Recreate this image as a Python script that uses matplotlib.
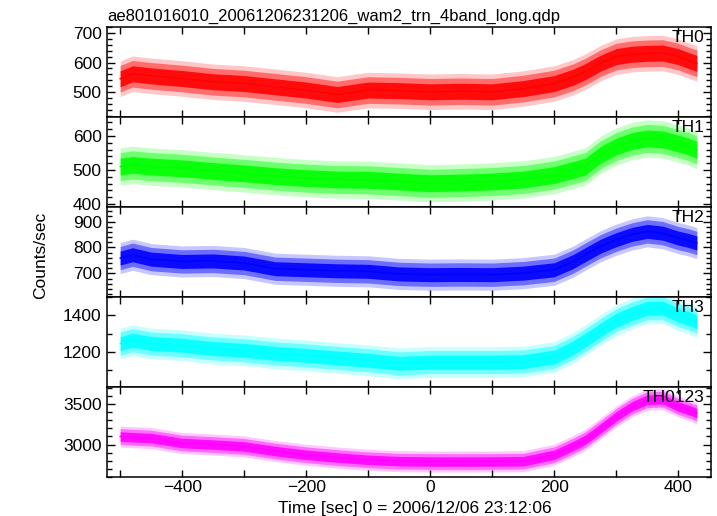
import numpy as np
import matplotlib
matplotlib.use('Agg')
import matplotlib.pyplot as plt
from matplotlib.ticker import MultipleLocator

plt.rcParams['font.family'] = ['Liberation Sans', 'DejaVu Sans']

# time bins [sec], shared by all bands
TIME = [-500, -480, -450, -400, -350, -300, -250, -200, -150, -100, -50, 0,
        50, 100, 150, 200, 230, 250, 275, 300, 325, 350, 375, 400, 415, 430]

# band-averaged count rates
TH0 = [545, 562, 555, 546, 535, 529, 518, 507, 492, 507, 505, 501,
       503, 501, 512, 529, 550, 569, 598, 620, 628, 631, 632, 620, 608, 597]
TH1 = [510, 515, 510, 505, 497, 490, 482, 476, 472, 471, 466, 461,
       463, 466, 472, 485, 500, 510, 545, 569, 585, 593, 590, 578, 570, 559]
TH2 = [759, 772, 755, 746, 748, 740, 718, 714, 710, 708, 698, 695,
       696, 695, 701, 714, 745, 772, 805, 830, 850, 862, 855, 836, 828, 817]
TH3 = [1244, 1263, 1245, 1235, 1217, 1207, 1190, 1179, 1165, 1152, 1135, 1142,
       1142, 1142, 1145, 1170, 1220, 1263, 1320, 1374, 1410, 1439, 1440, 1402, 1385, 1365]
TH0123 = [3100, 3090, 3080, 3019, 3000, 2977, 2920, 2874, 2840, 2812, 2795, 2791,
          2790, 2791, 2795, 2874, 2980, 3059, 3200, 3347, 3470, 3553, 3560, 3470, 3430, 3389]

# typical scatter of the 1-s bins around the mean, counts/sec
SCATTER = [60, 55, 60, 85, 130]

NAMES = ['TH0', 'TH1', 'TH2', 'TH3', 'TH0123']
SERIES = [TH0, TH1, TH2, TH3, TH0123]
COLORS = ['#ff0000', '#00ff00', '#0000ff', '#00ffff', '#ff00ff']
YLIMS = [(416, 720), (391, 656), (609, 956), (1004, 1502), (2600, 3710)]
YMAJOR = [100, 100, 100, 200, 500]
YMINOR = [20, 20, 20, 100, 100]

fig = plt.figure(figsize=(7.17, 5.16), dpi=100)

left, width = 106.5 / 717, 604 / 717
top = 1 - 27 / 516
h = 90 / 516

axes = []
for i in range(5):
    ax = fig.add_axes([left, top - (i + 1) * h, width, h])
    axes.append(ax)
    t = np.array(TIME)
    c = np.array(SERIES[i], dtype=float)
    s = SCATTER[i]
    col = COLORS[i]
    # layered bands to mimic the dense 1-s error bars
    ax.fill_between(t, c - s, c + s, color=col, alpha=0.22, lw=0)
    ax.fill_between(t, c - 0.75 * s, c + 0.75 * s, color=col, alpha=0.45, lw=0)
    ax.fill_between(t, c - 0.45 * s, c + 0.45 * s, color=col, alpha=0.9, lw=0)
    ax.plot(t, c, color=col, lw=1)

    ax.set_xlim(-522, 452)
    ax.set_ylim(*YLIMS[i])
    ax.xaxis.set_major_locator(MultipleLocator(200))
    ax.xaxis.set_minor_locator(MultipleLocator(100))
    ax.yaxis.set_major_locator(MultipleLocator(YMAJOR[i]))
    ax.yaxis.set_minor_locator(MultipleLocator(YMINOR[i]))
    ax.tick_params(which='both', direction='in', top=True, right=True,
                   labelsize=12.5, width=1)
    ax.tick_params(which='major', length=6)
    ax.tick_params(which='minor', length=3.5)
    ax.tick_params(axis='x', which='both', length=5)
    for sp in ax.spines.values():
        sp.set_linewidth(1.1)
    if i < 4:
        ax.tick_params(axis='x', labelbottom=False)
    ax.text(0.99, 0.97, NAMES[i], transform=ax.transAxes, ha='right', va='top',
            fontsize=12.5)

axes[-1].tick_params(axis='x', pad=2)

fig.text(107 / 717, 1 - 21 / 516, 'ae801016010_20061206231206_wam2_trn_4band_long.qdp',
         ha='left', va='baseline', fontsize=12)
fig.text(415 / 717, 1 - 508 / 516, 'Time [sec] 0 = 2006/12/06 23:12:06',
         ha='center', va='center', fontsize=12.5)
fig.text(41 / 717, 1 - 255 / 516, 'Counts/sec', rotation=90,
         ha='center', va='center', fontsize=12.5)

fig.savefig('out.png', dpi=100)
